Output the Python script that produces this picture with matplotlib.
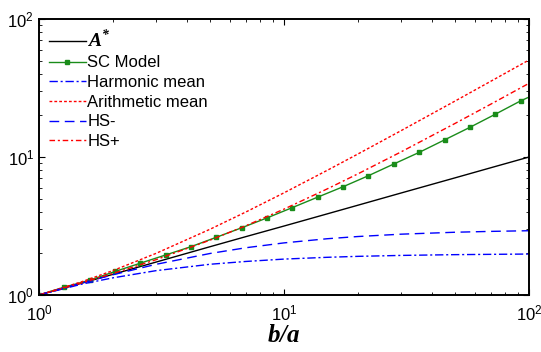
import matplotlib
matplotlib.use("Agg")
import matplotlib.pyplot as plt

plt.rcParams["font.family"] = ["Liberation Sans", "DejaVu Sans"]
plt.rcParams["mathtext.fontset"] = "custom"
plt.rcParams["mathtext.rm"] = "Liberation Sans"
plt.rcParams["mathtext.it"] = "Liberation Serif:italic"
plt.rcParams["mathtext.bf"] = "Liberation Serif:bold"
plt.rcParams["mathtext.bfit"] = "Liberation Serif:bold:italic"
plt.rcParams["mathtext.default"] = "regular"

# values
x_ref = [1, 1.5, 2, 3, 5, 7, 10, 15, 20, 30, 50, 70, 100]
a_star = [1.0, 1.22, 1.41, 1.73, 2.24, 2.65, 3.16, 3.87, 4.47, 5.48, 7.07, 8.37, 10.0]
harmonic = [1.0, 1.2, 1.33, 1.5, 1.67, 1.75, 1.82, 1.875, 1.905, 1.935, 1.96, 1.97, 1.98]
arithmetic = [1.0, 1.25, 1.5, 2.0, 3.0, 4.0, 5.5, 8.0, 10.5, 15.5, 25.5, 35.5, 50.5]
hs_minus = [1.0, 1.222, 1.4, 1.667, 2.0, 2.2, 2.385, 2.556, 2.652, 2.758, 2.849, 2.89, 2.922]
hs_plus = [1.0, 1.227, 1.429, 1.8, 2.5, 3.18, 4.19, 5.87, 7.54, 10.88, 17.55, 24.22, 34.22]

x_sc = [1.0, 1.269, 1.610, 2.043, 2.593, 3.290, 4.175, 5.297, 6.722, 8.530,
        10.82, 13.73, 17.43, 22.11, 28.06, 35.61, 45.18, 57.33, 72.75, 92.31, 100]
sc_model = [1.0, 1.14, 1.28, 1.48, 1.70, 1.95, 2.24, 2.62, 3.07, 3.62,
            4.30, 5.12, 6.09, 7.32, 8.9, 10.8, 13.3, 16.4, 20.4, 25.5, 27.2]

fig = plt.figure(figsize=(5.41, 3.52), dpi=100)
ax = fig.add_axes([0.072, 0.162, 0.906, 0.784])

ax.loglog(x_ref, a_star, color="black", lw=1.0, label=r"$\mathbfit{A}^{\mathbfit{*}}$")
ax.loglog(x_sc, sc_model, color="#1a8c1a", lw=1.0, marker="s", ms=3.5,
          markevery=list(range(20)), label="SC Model")
ax.loglog(x_ref, harmonic, color="blue", lw=1.0, ls=(0, (6, 2, 1.5, 2)), label="Harmonic mean")
ax.loglog(x_ref, arithmetic, color="red", lw=1.0, ls=(0, (2, 1.5)), label="Arithmetic mean")
ax.loglog(x_ref, hs_minus, color="blue", lw=1.0, ls=(0, (7, 4)), label="HS-")
ax.loglog(x_ref, hs_plus, color="red", lw=1.0, ls=(0, (4, 2, 1.5, 2)), label="HS+")

ax.set_xlim(1, 100)
ax.set_ylim(1, 100)
ax.set_xlabel(r"$\mathbfit{b/a}$", fontsize=18, labelpad=0)
ax.tick_params(which="both", direction="in", top=True, right=True, labelsize=12)
ax.tick_params(axis="x", which="major", pad=6)
ax.tick_params(which="major", length=4)
ax.tick_params(which="minor", length=2.5)
for s in ax.spines.values():
    s.set_linewidth(1.4)

leg = ax.legend(loc="upper left", frameon=False, fontsize=12, handlelength=2.2,
                handletextpad=0.1, labelspacing=0.28, borderaxespad=0.2)
leg.get_texts()[0].set_fontsize(14)

fig.savefig("out.png", dpi=100)
